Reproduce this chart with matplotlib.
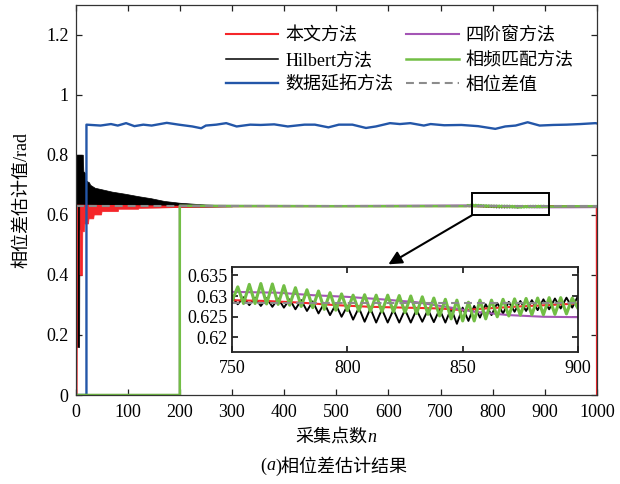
import numpy as np
import matplotlib
matplotlib.use('Agg')
import matplotlib.pyplot as plt
from matplotlib.patches import Rectangle
from matplotlib.ticker import FuncFormatter

plt.rcParams['font.family'] = ['Liberation Serif', 'Noto Sans CJK SC']
plt.rcParams['axes.unicode_minus'] = False

# ---------------- data ----------------
labels = ['本文方法', 'Hilbert方法', '数据延拓方法', '四阶窗方法', '相频匹配方法', '相位差值']

true_phase = 0.6283

inset_n = list(np.arange(750, 900.1, 2.5))  # sample positions of the zoomed zig-zag

# Hilbert (black) : early transient band
blk_env_n  = [1, 7, 7.5, 14, 15, 18, 19, 26, 28, 37, 50, 70, 95, 120, 145, 170, 200, 250, 300]
blk_env_hi = [0.80, 0.80, 0.80, 0.80, 0.745, 0.74, 0.715, 0.708, 0.70, 0.69,
              0.685, 0.677, 0.67, 0.662, 0.655, 0.646, 0.640, 0.634, 0.631]
blk_env_lo = [0.16, 0.16, 0.55, 0.56, 0.60, 0.61, 0.612, 0.616, 0.618, 0.62,
              0.622, 0.624, 0.625, 0.626, 0.626, 0.627, 0.627, 0.627, 0.628]
blk_main_n = [300, 400, 500, 600, 700]
blk_main_v = [0.6285, 0.6283, 0.6284, 0.6285, 0.6288]
blk_inset_v = [0.6298, 0.6280, 0.6297, 0.6278, 0.6296, 0.6276, 0.6295, 0.6274, 0.6294, 0.6272,
               0.6292, 0.6268, 0.6290, 0.6264, 0.6287, 0.6258, 0.6283, 0.6254, 0.6280, 0.6250,
               0.6276, 0.6243, 0.6272, 0.6238, 0.6270, 0.6236, 0.6268, 0.6236, 0.6267, 0.6236,
               0.6267, 0.6236, 0.6267, 0.6238, 0.6267, 0.6237, 0.6268, 0.6236, 0.6270, 0.6233,
               0.6272, 0.6240, 0.6276, 0.6248, 0.6280, 0.6254, 0.6283, 0.6258, 0.6286, 0.6262,
               0.6288, 0.6264, 0.6290, 0.6266, 0.6292, 0.6268, 0.6294, 0.6270, 0.6296, 0.6272,
               0.6300]
blk_end_n = [950, 1000]
blk_end_v = [0.6285, 0.6287]

# proposed method (red)
red_env_n  = [8, 12.5, 13, 16, 17, 24, 25, 34, 35, 49, 50, 81, 82, 120, 121, 160, 200]
red_env_lo = [0.40, 0.40, 0.545, 0.545, 0.571, 0.571, 0.588, 0.588, 0.601, 0.601,
              0.612, 0.612, 0.620, 0.620, 0.623, 0.624, 0.626]
red_env_hi = [0.632, 0.632, 0.632, 0.632, 0.632, 0.632, 0.632, 0.632, 0.632, 0.632,
              0.632, 0.632, 0.632, 0.631, 0.631, 0.630, 0.629]
red_main_n = [0, 2, 3, 200, 300, 400, 500, 600, 700]
red_main_v = [0, 0, 0.630, 0.6265, 0.6285, 0.6288, 0.6290, 0.6290, 0.6290]
red_inset_n = [750, 765, 780, 795, 810, 825, 840, 850, 860, 875, 890, 900]
red_inset_v = [0.6290, 0.6288, 0.6284, 0.6278, 0.6274, 0.6272, 0.6270, 0.6266, 0.6270, 0.6275, 0.6279, 0.6282]
red_end_n = [950, 999.6, 1000]
red_end_v = [0.6283, 0.6280, 0.0]

# data extension (blue)
blue_n = [0, 21, 21, 48, 68, 81, 97, 113, 130, 146, 175, 198, 224, 241, 250, 270, 289, 309, 335, 355,
          381, 407, 439, 459, 485, 505, 531, 557, 576, 603, 622, 642, 668, 681, 707, 740, 772,
          805, 824, 844, 867, 890, 916, 942, 968, 997, 1000]
blue_v = [0, 0, 0.900, 0.897, 0.902, 0.897, 0.905, 0.895, 0.900, 0.897, 0.906, 0.900, 0.894, 0.888,
          0.897, 0.900, 0.905, 0.894, 0.900, 0.899, 0.901, 0.894, 0.900, 0.900, 0.891, 0.900,
          0.900, 0.889, 0.894, 0.905, 0.902, 0.905, 0.897, 0.902, 0.898, 0.899, 0.895, 0.886,
          0.894, 0.897, 0.908, 0.897, 0.899, 0.900, 0.902, 0.905, 0.904]

# four-term window (purple)
pur_main_n = [0, 200, 200, 300, 500, 700]
pur_main_v = [0, 0, 0.630, 0.6295, 0.6290, 0.6305]
pur_inset_n = [750, 770, 785, 800, 815, 830, 845, 855, 870, 885, 900]
pur_inset_v = [0.6310, 0.6308, 0.6302, 0.6298, 0.6292, 0.6285, 0.6272, 0.6262, 0.6254, 0.6250, 0.6249]
pur_end_n = [950, 1000]
pur_end_v = [0.6250, 0.6255]

# phase-frequency matching (green)
grn_main_n = [0, 200, 200, 250, 300, 400, 500, 600, 700]
grn_main_v = [0, 0, 0.630, 0.6295, 0.6290, 0.6288, 0.6285, 0.6285, 0.6288]
grn_inset_v = [0.6288, 0.6322, 0.6282, 0.6328, 0.6282, 0.6330, 0.6281, 0.6329, 0.6280, 0.6325,
               0.6278, 0.6320, 0.6275, 0.6315, 0.6272, 0.6312, 0.6268, 0.6308, 0.6266, 0.6305,
               0.6265, 0.6302, 0.6264, 0.6303, 0.6263, 0.6302, 0.6262, 0.6302, 0.6262, 0.6301,
               0.6260, 0.6300, 0.6258, 0.6298, 0.6256, 0.6295, 0.6252, 0.6292, 0.6245, 0.6290,
               0.6240, 0.6285, 0.6240, 0.6290, 0.6245, 0.6290, 0.6250, 0.6292, 0.6252, 0.6293,
               0.6254, 0.6294, 0.6255, 0.6295, 0.6255, 0.6296, 0.6256, 0.6296, 0.6257, 0.6295,
               0.6270]
grn_end_n = [950, 1000]
grn_end_v = [0.6283, 0.6285]

gray_n = [0, 1000]
gray_v = [true_phase, true_phase]

zoom_box = (760, 907, 0.598, 0.671)   # n0, n1, y0, y1 of the marked region
arrow_tip = (600, 0.435)

# ---------------- styles ----------------
c_red, c_blk, c_blue, c_pur, c_grn, c_gray = '#F5262A', '#000000', '#2356A8', '#A455B5', '#72BE45', '#8C8C8C'
FS = 13
W, H = 620, 484

fig = plt.figure(figsize=(W / 100, H / 100), dpi=100)
ax = fig.add_axes([75.5 / W, 1 - 395 / H, (597 - 75.5) / W, (395 - 4.5) / H])
axi = fig.add_axes([232 / W, 1 - 352 / H, (578 - 232) / W, (352 - 267) / H])


def draw(a, inset=False):
    k = 1.25 if inset else 1.0
    a.fill_between(blk_env_n, blk_env_lo, blk_env_hi, color=c_blk, lw=0.5, zorder=2.0)
    hb, = a.plot(blk_main_n + inset_n + blk_end_n, blk_main_v + blk_inset_v + blk_end_v,
                 color=c_blk, lw=1.1 * k, zorder=2.0)
    a.fill_between(red_env_n, red_env_lo, red_env_hi, color=c_red, lw=0.5, zorder=2.1)
    hr, = a.plot(red_main_n + red_inset_n + red_end_n, red_main_v + red_inset_v + red_end_v,
                 color=c_red, lw=1.5, zorder=2.1)
    hbl, = a.plot(blue_n, blue_v, color=c_blue, lw=1.7, zorder=2.2)
    hp, = a.plot(pur_main_n + pur_inset_n + pur_end_n, pur_main_v + pur_inset_v + pur_end_v,
                 color=c_pur, lw=1.5, zorder=2.3)
    hg, = a.plot(grn_main_n + inset_n + grn_end_n, grn_main_v + grn_inset_v + grn_end_v,
                 color=c_grn, lw=1.8 * k, zorder=2.4)
    hgr, = a.plot(gray_n, gray_v, color=c_gray, lw=1.5, ls=(0, (3.8, 2.4)), zorder=2.5)
    return [hr, hb, hbl, hp, hg, hgr]


handles = draw(ax)
draw(axi, inset=True)

fmt = FuncFormatter(lambda v, p: f'{v:g}')

ax.set_xlim(0, 1000)
ax.set_ylim(0, 1.3)
ax.set_xticks(np.arange(0, 1001, 100))
ax.set_yticks([0, 0.2, 0.4, 0.6, 0.8, 1.0, 1.2])
ax.xaxis.set_major_formatter(fmt)
ax.yaxis.set_major_formatter(fmt)
ax.tick_params(direction='in', length=4.5, width=0.9, top=True, right=True,
               labelsize=FS, colors='#222222', labelcolor='black')
ax.tick_params(axis='x', pad=6.5)
ax.tick_params(axis='y', pad=5)
for s in ax.spines.values():
    s.set_linewidth(0.9)
    s.set_color('#333333')

axi.set_xlim(750, 900)
axi.set_ylim(0.6165, 0.637)
axi.set_xticks([750, 800, 850, 900])
axi.set_yticks([0.62, 0.625, 0.63, 0.635])
axi.xaxis.set_major_formatter(fmt)
axi.yaxis.set_major_formatter(fmt)
axi.tick_params(direction='in', length=4, width=1.1, top=True, right=True, labelsize=FS)
axi.tick_params(axis='x', pad=5.5)
axi.tick_params(axis='y', pad=3)
for s in axi.spines.values():
    s.set_linewidth(1.3)
    s.set_color('#222222')

# zoom box and arrow
n0, n1, y0, y1 = zoom_box
ax.add_patch(Rectangle((n0, y0), n1 - n0, y1 - y0, fill=False, ec='k', lw=1.4, zorder=5))
ax.annotate('', xy=arrow_tip, xytext=(n0, y0),
            arrowprops=dict(arrowstyle='-|>', color='k', lw=1.5, mutation_scale=20,
                            shrinkA=0, shrinkB=0), zorder=5)

leg = ax.legend(handles, labels, ncol=2, loc='upper left', bbox_to_anchor=(0.2886, 0.942),
                frameon=False, fontsize=FS, handlelength=2.9, handletextpad=0.4,
                columnspacing=0.7, labelspacing=0.42, borderpad=0, borderaxespad=0)

ax.set_ylabel('相位差估计值/rad', fontsize=FS)
ax.yaxis.set_label_coords(-0.087, 0.5)

renderer = fig.canvas.get_renderer()


def rich_text(xc, yc, pieces):
    """Lay out text pieces (string, style) side by side, centred at pixel (xc, yc)."""
    objs, widths = [], []
    for s, st in pieces:
        t = fig.text(0, 1 - yc / H, s, fontsize=FS, style=st, ha='left', va='center')
        objs.append(t)
        widths.append(t.get_window_extent(renderer).width)
    x = xc - sum(widths) / 2
    for t, w in zip(objs, widths):
        t.set_x(x / W)
        x += w


rich_text(336, 437, [('采集点数', 'normal'), ('n', 'italic')])
rich_text(334, 466, [('(', 'normal'), ('a', 'italic'), (')相位差估计结果', 'normal')])

fig.savefig('out.png', dpi=100)
